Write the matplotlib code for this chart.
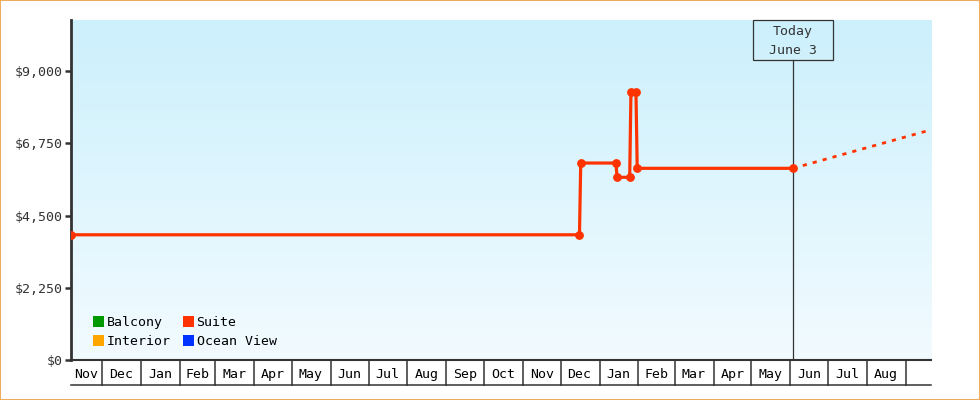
import numpy as np
import matplotlib
matplotlib.use("Agg")
import matplotlib.pyplot as plt
import matplotlib.dates as mdates
from matplotlib.patches import Patch, Rectangle
from matplotlib.lines import Line2D
import matplotlib.transforms as mtrans

# ---------------- data ----------------
suite_dates = ['2022-11-06', '2023-12-16', '2023-12-17', '2024-01-14', '2024-01-15',
               '2024-01-25', '2024-01-26', '2024-01-30', '2024-01-31', '2024-06-03']
suite_prices = [3900, 3900, 6135, 6135, 5690, 5690, 8340, 8340, 5970, 5970]
proj_dates = ['2024-06-03', '2024-09-21']
proj_prices = [5970, 7170]
legend_names = ['Balcony', 'Interior', 'Suite', 'Ocean View']
legend_colors = ['#009900', '#ffa500', '#ff3300', '#0033ff']
y_ticks = [0, 2250, 4500, 6750, 9000]
y_tick_labels = ['$0', '$2,250', '$4,500', '$6,750', '$9,000']
month_labels = ['Nov', 'Dec', 'Jan', 'Feb', 'Mar', 'Apr', 'May', 'Jun', 'Jul', 'Aug',
                'Sep', 'Oct', 'Nov', 'Dec', 'Jan', 'Feb', 'Mar', 'Apr', 'May', 'Jun',
                'Jul', 'Aug', '']
x_start, x_end = '2022-11-06', '2024-09-21'
today = '2024-06-03'
today_lines = ['Today', 'June 3']

FONT = 'DejaVu Sans Mono'
DARK = '#333333'
FS = 9.5

fig = plt.figure(figsize=(9.8, 4.0), dpi=100)
W, H = 980, 400
ax = fig.add_axes([71 / W, 40 / H, 860 / W, 340 / H])

xs = np.array(suite_dates, dtype='datetime64[D]')
x0 = np.datetime64(x_start, 'D')
x1 = np.datetime64(x_end, 'D')
ax.set_xlim(x0, x1)
ax.set_ylim(0, 10590)

# gradient background
grad = np.linspace(0, 1, 256).reshape(-1, 1)
top = np.array([204, 240, 252]) / 255
bot = np.array([242, 251, 255]) / 255
img = top[None, None, :] * (1 - grad[:, :, None]) + bot[None, None, :] * grad[:, :, None]
ax.imshow(img, extent=[0, 1, 0, 1], transform=ax.transAxes, aspect='auto', zorder=0)
ax.set_facecolor('white')

# series
ax.plot(xs, suite_prices, color='#ff3300', lw=2.3, marker='o', ms=5.3, zorder=5,
        solid_joinstyle='miter')
ax.plot(np.array(proj_dates, dtype='datetime64[D]'), proj_prices, color='#ff3300',
        lw=2.0, ls=(0, (1.5, 2.2)), zorder=4, clip_on=False)

# today marker
td = np.datetime64(today, 'D')
ax.axvline(td, ymin=0, ymax=(360 - 60) / 340, color=DARK, lw=0.9, zorder=3)
bt = mtrans.blended_transform_factory(ax.transData, ax.transAxes)
tx = ax.transAxes.inverted().transform(ax.transData.transform((mdates.date2num(td), 0)))[0]
ax.add_patch(Rectangle((tx - 40 / 860, (360 - 60) / 340), 80 / 860, 40 / 340,
                       transform=ax.transAxes, fill=False, edgecolor=DARK, lw=0.9,
                       zorder=6, clip_on=False))
ax.text(td, (360 - 32) / 340, today_lines[0], transform=bt, ha='center', va='center',
        fontsize=FS, family=FONT, color=DARK, zorder=7)
ax.text(td, (360 - 50) / 340, today_lines[1], transform=bt, ha='center', va='center',
        fontsize=FS, family=FONT, color=DARK, zorder=7)

# y axis
ax.set_yticks(y_ticks)
ax.set_yticklabels(y_tick_labels, family=FONT, fontsize=FS, color=DARK)
ax.tick_params(axis='y', length=4, width=1.8, color=DARK, pad=2)
for s in ['top', 'right']:
    ax.spines[s].set_visible(False)
ax.spines['left'].set_color(DARK)
ax.spines['left'].set_linewidth(2.0)
ax.spines['bottom'].set_color(DARK)
ax.spines['bottom'].set_linewidth(1.5)

# x axis: month cells
starts = np.arange(np.datetime64(x_start, 'M') + 1, np.datetime64(x_end, 'M') + 1)
starts = starts.astype('datetime64[D]')
edges = np.concatenate([[x0], starts, [x1]])
centers = [edges[i] + (edges[i + 1] - edges[i]) / 2 for i in range(len(edges) - 1)]
ax.set_xticks(starts)
ax.set_xticklabels([])
ax.tick_params(axis='x', which='major', length=18.5, width=1.1, color=DARK, direction='out')
ax.set_xticks(centers, minor=True)
ax.set_xticklabels(month_labels[:len(centers)], minor=True, family=FONT, fontsize=FS, color='black')
ax.tick_params(axis='x', which='minor', length=0, pad=6)
ax.add_line(Line2D([0, 1], [-25 / 340, -25 / 340], transform=ax.transAxes, color=DARK,
                   lw=1.1, clip_on=False))

# legend
handles = [Patch(facecolor=c, edgecolor='none') for c in legend_colors]
ax.legend(handles, legend_names, ncol=2, loc='lower left',
          bbox_to_anchor=((93 - 71) / 860, (360 - 348) / 340), frameon=False,
          prop={'family': FONT, 'size': FS}, handlelength=0.85, handleheight=0.85,
          handletextpad=0.2, columnspacing=0.9, labelspacing=0.45, borderpad=0,
          borderaxespad=0)

# figure border
fig.patches.append(Rectangle((0, 0), 1, 1, transform=fig.transFigure,
                             fill=False, edgecolor='#efab5e', lw=1.5))

fig.savefig('out.png', dpi=100)
